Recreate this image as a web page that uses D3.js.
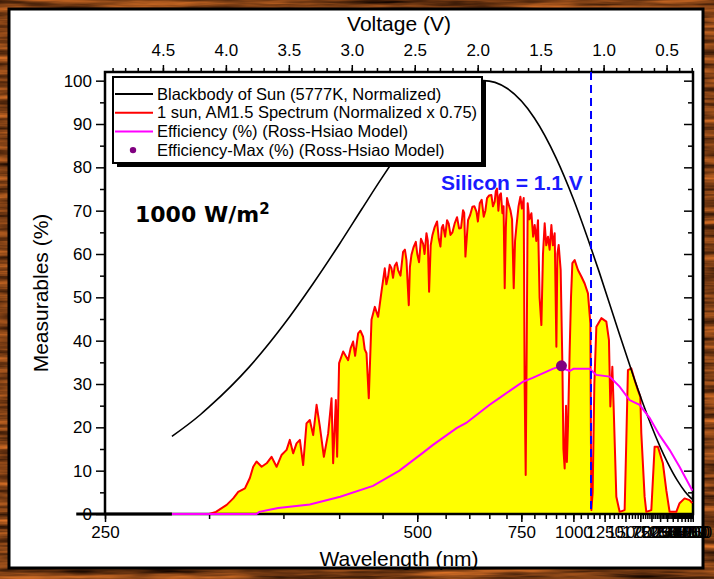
<!DOCTYPE html>
<html>
<head>
<meta charset="utf-8">
<script src="https://cdn.jsdelivr.net/npm/d3@7"></script>
<style>
    body { margin: 0; padding: 0; background: #6b3a16; }
    svg { display: block; }
    text { font-family: "Liberation Sans", Arial, sans-serif; }
</style>
</head>
<body>
<script>
// values: [wavelength nm, value %]
const am15 = [
    [300, 0], [304, 0.5], [310.5, 2.1], [314.6, 3.6], [317.8, 5.1], [322.2, 5.9], [325.5, 8.3], [327.8, 10.9],
    [330.1, 12.1], [333.7, 10.9], [337.3, 11.7], [340.9, 13.2], [344.7, 10.9], [348.5, 13.6], [352.5, 14.8],
    [355.1, 17.1], [357.8, 14.0], [360.6, 16.3], [363.4, 17.1], [366.2, 11.3], [369.1, 20.9], [372, 21.7],
    [375, 18.2], [378.1, 25.2], [381.1, 20.2], [384.9, 13.2], [389, 18.6], [392.3, 26.7], [393.9, 11.7],
    [396.6, 26.3], [397.9, 13.2], [399.9, 34.8], [404.1, 37.5], [409.4, 35.5], [412, 38.2], [414.8, 39.8],
    [417, 36.5], [420.4, 41.7], [423, 42.3], [426.1, 40.9], [428, 38], [430.1, 37.1], [432.8, 26.7],
    [436.1, 44.8], [440.2, 47.8], [444.3, 45.5], [448.6, 51.3], [452.9, 56.7], [455, 53], [457.3, 54.8],
    [459.5, 57.5], [461.9, 56.7], [464, 54.5], [466.4, 57.3], [469, 58], [471.1, 56.3], [474.5, 55],
    [478.3, 60.5], [481, 61], [483.3, 58.6], [486.8, 48.2], [488.5, 57], [490.9, 59.8], [494, 61.5],
    [497.7, 62.8], [500, 60], [502.9, 58.1], [506, 63.5], [509.5, 62.4], [512, 60], [515.2, 64.8],
    [517.5, 63], [519.7, 51.3], [522.5, 62], [525.6, 64.4], [529.5, 66.2], [533.9, 67.5], [537, 63.5],
    [540.1, 61.7], [542.5, 66], [545, 66.7], [549, 64], [552.8, 67.8], [556, 67], [559.5, 64.4], [563.5, 65],
    [568.2, 67.1], [573, 68.5], [577.3, 65.9], [581.5, 66], [585.9, 70.1], [588.5, 69.5], [591.2, 59.4],
    [597.1, 67.8], [602, 69], [607.3, 70.9], [612, 71], [616.9, 69.8], [620.5, 67.5], [625.1, 71.7],
    [630, 72.5], [635.2, 68.6], [639.5, 70], [643.9, 72.9], [649.5, 73.5], [655.7, 73.6], [660, 71],
    [664.9, 72.1], [668, 74.5], [671.5, 75.1], [675.5, 70], [679.4, 73.6], [683, 74], [687.5, 69.4],
    [691, 71], [694.5, 52.1], [698, 66], [701.7, 72.9], [706.5, 71.5], [712.6, 70.1], [718, 68], [723.5, 52.1],
    [728, 63], [732.6, 66.3], [740, 71], [746.6, 73.2], [752, 70.5], [758.6, 72.9],
    [762, 30], [766, 9.0], [770, 40], [773.6, 71.7], [780, 68], [788.1, 69.4], [795, 64], [801.4, 66.7],
    [808, 63], [815.2, 67.8], [822, 50], [829.9, 43.6], [837, 60], [844.7, 67.1], [852, 62], [860.1, 64.0],
    [868, 61], [876.5, 66.7], [884, 62], [893, 64.8], [901.8, 38.6], [907, 60], [913.9, 62.1], [924.7, 56.3],
    [934.1, 34.8], [940, 15], [947.1, 10.5], [955, 25], [960, 12], [966.5, 20.2], [976.8, 37.8], [985, 50],
    [993.5, 57.9], [1008.3, 58.6], [1030.2, 56.3], [1053.8, 54.8], [1077.8, 53.2], [1102.9, 50.9],
    [1122, 44], [1126, 20], [1130, 0.9], [1140.8, 5], [1155, 30], [1172.5, 43.2], [1218.2, 45.2], [1267.5, 44.4],
    [1294.9, 40.2], [1310.1, 24.8], [1332.5, 34.0], [1347.4, 24.8], [1379.5, 4.0], [1420.9, 0.5], [1488.6, 0.9],
    [1513.1, 17.1], [1536.9, 33.2], [1590.1, 33.6], [1645.4, 30.9], [1704.5, 28.6], [1750.4, 27.1], [1770.2, 18.6],
    [1838.9, 4.0], [1876.5, 0.5], [1996.5, 0.9], [2084.4, 15.5], [2180.4, 15.5], [2344, 11.7], [2469.6, 5.5],
    [2605.6, 0.5], [2933.5, 0.5], [3127.4, 2.5], [3475.3, 3.6], [3910.4, 3.2], [4193.4, 2.5]
];

const blackbody = [
    [280, 17.9], [295, 22.9], [300, 24.7], [325, 33.9], [350, 43.6], [375, 53.2], [400, 62.2], [425, 70.5],
    [450, 77.8], [500, 89.0], [550, 96.0], [600, 99.3], [635, 100], [700, 98.3], [800, 91.4], [900, 82.2],
    [1000, 72.7], [1100, 63.7], [1200, 55.7], [1400, 42.5], [1600, 32.8], [1800, 25.6], [2000, 20.3],
    [2250, 15.5], [2500, 12.1], [3000, 7.7], [3500, 5.2], [4000, 3.8], [4300, 3.3]
];
const zeroLine = [[239, 0], [280, 0]];

const efficiency = [
    [280, 0], [330, 0], [332, 0.5], [346, 1.4], [372, 2.2], [401, 4.0], [438, 6.5], [473, 10.0], [509, 14.1],
    [526, 15.9], [572, 19.8], [593, 21.0], [651, 25.2], [679, 26.8], [755, 30.5], [793, 31.4], [883, 33.5],
    [929, 34.2], [950, 33.4], [977, 33.0], [1000, 33.5], [1116, 33.5], [1172, 32.1], [1302, 31.7], [1420, 29.4],
    [1562, 26.3], [1736, 25.2], [1953, 22.2], [2230, 18.2], [2605, 14.8], [3123, 10.9], [4079, 5.9], [4200, 5.4]
];
const effMax = [929, 34.2];

const siliconGap = 1.1;
const voltTicks = [4.5, 4.0, 3.5, 3.0, 2.5, 2.0, 1.5, 1.0, 0.5];
const voltMinor = d3.range(49, 2, -1).map(d => d / 10);
const nmTicks = d3.range(250, 4251, 250);
const nmMinor = d3.range(250, 4251, 50);
const yTicks = d3.range(0, 101, 10);
const yMinor = d3.range(5, 101, 10);

const legendItems = [
    { label: 'Blackbody of Sun (5777K, Normalized)', color: '#000', type: 'line' },
    { label: '1 sun, AM1.5 Spectrum (Normalized x 0.75)', color: '#ff0000', type: 'line' },
    { label: 'Efficiency (%) (Ross-Hsiao Model)', color: '#ff00ff', type: 'line' },
    { label: 'Efficiency-Max (%) (Ross-Hsiao Model)', color: '#800080', type: 'dot' }
];

const width = 714, height = 579;
const HC = 1240;
const margin = { left: 105, right: 693, top: 72, bottom: 514 };

const svg = d3.create('svg')
    .attr('viewBox', [0, 0, width, height])
    .attr('width', width)
    .attr('height', height);
document.body.appendChild(svg.node());

// wood frame: noise taken from the alpha channel, tinted brown
const defs = svg.append('defs');
const wood = defs.append('filter').attr('id', 'wood')
    .attr('x', 0).attr('y', 0).attr('width', 1).attr('height', 1)
    .attr('color-interpolation-filters', 'sRGB');
wood.append('feTurbulence').attr('type', 'fractalNoise').attr('baseFrequency', '0.01 0.16').attr('numOctaves', 4).attr('seed', 7);
wood.append('feColorMatrix').attr('type', 'matrix')
    .attr('values', '0 0 0 1.1 -0.05  0 0 0 0.6 -0.05  0 0 0 0.22 -0.03  0 0 0 0 1');
svg.append('rect').attr('width', width).attr('height', height).attr('filter', 'url(#wood)');

svg.append('rect')
    .attr('x', 9).attr('y', 9).attr('width', 694).attr('height', 559)
    .attr('fill', '#fff').attr('stroke', '#000').attr('stroke-width', 3);

// energy scale (V), wavelength mapped through E = hc / lambda
const x = d3.scaleLinear().domain([HC / 250, 0.29]).range([margin.left, margin.right]);
const xnm = nm => x(HC / nm);
const y = d3.scaleLinear().domain([0, 102]).range([margin.bottom, margin.top]);

const area = d3.area().x(d => xnm(d[0])).y0(y(0)).y1(d => y(d[1]));
const line = d3.line().x(d => xnm(d[0])).y(d => y(d[1]));
const smooth = d3.line().x(d => xnm(d[0])).y(d => y(d[1])).curve(d3.curveMonotoneX);

svg.append('path').datum(am15).attr('d', area).attr('fill', '#ffff00');

// axes
const tickFont = g => g.selectAll('text').attr('font-size', 17).attr('font-family', '"Liberation Sans", Arial, sans-serif').attr('fill', '#000');
const noDomain = g => g.select('.domain').remove();

svg.append('g').attr('transform', `translate(0,${margin.top})`)
    .call(d3.axisTop(x).tickValues(voltTicks).tickFormat(d3.format('.1f')).tickSize(7).tickPadding(9))
    .call(noDomain).call(tickFont);
svg.append('g').attr('transform', `translate(0,${margin.top})`)
    .call(d3.axisTop(x).tickValues(voltMinor).tickFormat('').tickSize(4))
    .call(noDomain);

svg.append('g').attr('transform', `translate(0,${margin.bottom})`)
    .call(d3.axisBottom(x).tickValues(nmTicks.map(d => HC / d)).tickFormat(e => Math.round(HC / e)).tickSize(8).tickPadding(4))
    .call(noDomain).call(tickFont);
svg.append('g').attr('transform', `translate(0,${margin.bottom})`)
    .call(d3.axisBottom(x).tickValues(nmMinor.map(d => HC / d)).tickFormat('').tickSize(5))
    .call(noDomain);

svg.append('g').attr('transform', `translate(${margin.left},0)`)
    .call(d3.axisLeft(y).tickValues(yTicks).tickSize(9).tickPadding(4))
    .call(noDomain).call(tickFont);
svg.append('g').attr('transform', `translate(${margin.left},0)`)
    .call(d3.axisLeft(y).tickValues(yMinor).tickFormat('').tickSize(5))
    .call(noDomain);

svg.append('g').attr('transform', `translate(${margin.right},0)`)
    .call(d3.axisLeft(y).tickValues(yTicks).tickFormat('').tickSize(9))
    .call(noDomain);
svg.append('g').attr('transform', `translate(${margin.right},0)`)
    .call(d3.axisLeft(y).tickValues(yMinor).tickFormat('').tickSize(5))
    .call(noDomain);

svg.selectAll('.tick line').attr('stroke-width', 1.5);

svg.append('rect')
    .attr('x', margin.left).attr('y', margin.top)
    .attr('width', margin.right - margin.left).attr('height', margin.bottom - margin.top)
    .attr('fill', 'none').attr('stroke', '#000').attr('stroke-width', 2.5);

// curves drawn over the frame, as in the original
svg.append('path').datum(am15).attr('d', line)
    .attr('fill', 'none').attr('stroke', '#ff0000').attr('stroke-width', 2).attr('stroke-linejoin', 'round');

svg.append('path').datum(zeroLine).attr('d', line)
    .attr('fill', 'none').attr('stroke', '#000').attr('stroke-width', 3);
svg.append('path').datum(blackbody).attr('d', smooth)
    .attr('fill', 'none').attr('stroke', '#000').attr('stroke-width', 1.6);

svg.append('path').datum(efficiency).attr('d', line)
    .attr('fill', 'none').attr('stroke', '#ff00ff').attr('stroke-width', 2);

svg.append('circle')
    .attr('cx', xnm(effMax[0])).attr('cy', y(effMax[1])).attr('r', 5.5)
    .attr('fill', '#800080');

svg.append('line')
    .attr('x1', x(siliconGap)).attr('x2', x(siliconGap))
    .attr('y1', margin.top).attr('y2', margin.bottom)
    .attr('stroke', '#0000ff').attr('stroke-width', 2).attr('stroke-dasharray', '8,5');

// titles
svg.append('text').attr('x', (margin.left + margin.right) / 2).attr('y', 31)
    .attr('text-anchor', 'middle').attr('font-size', 21).text('Voltage (V)');
svg.append('text').attr('x', (margin.left + margin.right) / 2).attr('y', 566)
    .attr('text-anchor', 'middle').attr('font-size', 21).text('Wavelength (nm)');
svg.append('text').attr('transform', `translate(48,${(margin.top + margin.bottom) / 2}) rotate(-90)`)
    .attr('text-anchor', 'middle').attr('font-size', 21).text('Measurables (%)');

svg.append('text').attr('x', 135).attr('y', 222)
    .attr('font-size', 22).attr('font-weight', 'bold').style('font-family', '"DejaVu Sans", Verdana, sans-serif')
    .text('1000 W/m')
    .append('tspan').attr('font-size', 15).attr('dy', -8).text('2');

svg.append('text').attr('x', 441).attr('y', 190)
    .attr('font-size', 21).attr('font-weight', 'bold').attr('fill', '#1a1aff')
    .text('Silicon = 1.1 V');

// legend
const lg = svg.append('g');
lg.append('rect').attr('x', 117).attr('y', 81).attr('width', 369).attr('height', 86).attr('fill', '#000');
lg.append('rect').attr('x', 113).attr('y', 77).attr('width', 369).attr('height', 86)
    .attr('fill', '#fff').attr('stroke', '#000').attr('stroke-width', 2);
const rows = lg.selectAll('g.item').data(legendItems).join('g')
    .attr('class', 'item')
    .attr('transform', (d, i) => `translate(0,${94 + i * 18.7})`);
rows.filter(d => d.type === 'line').append('line')
    .attr('x1', 115).attr('x2', 153).attr('stroke', d => d.color).attr('stroke-width', 2);
rows.filter(d => d.type === 'dot').append('circle')
    .attr('cx', 133).attr('r', 3.2).attr('fill', d => d.color);
rows.append('text').attr('x', 157).attr('dy', '0.35em').attr('font-size', 16.5).text(d => d.label);
</script>
</body>
</html>
